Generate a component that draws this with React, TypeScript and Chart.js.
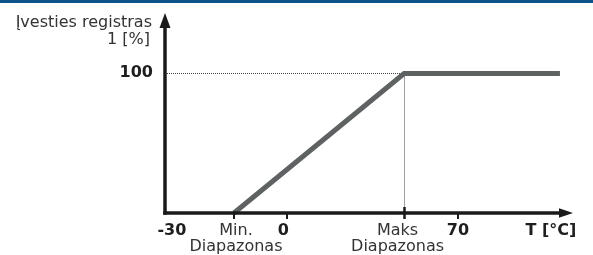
import React, { useEffect, useRef } from "react";
import { Chart, registerables } from "chart.js";

Chart.register(...registerables);

// Schematic x units (0..100 across the axis), y in percent
const curveX = [16.9, 58.6, 96.8];
const curveY = [0, 100, 100];
const guideX = 58.6; // Maks position
const guideY = 100;

const xTickMarks = [16.9, 30.0, 71.8];
const xMaksTick = 58.6;
const xLabels: (string | string[])[] = ["-30", ["Min.", "Diapazonas"], "0", ["Maks", "Diapazonas"], "70", "T [°C]"];
const xLabelPos = [1.7, 17.4, 29.0, 57.0, 71.8, 94.6];
const xLabelBold = [true, false, true, false, true, true];

const yTickValue = 100;
const yTickLabel = "100";
const yTitle = ["Įvesties registras", "1 [%]"];

const FONT = "'DejaVu Sans', Verdana, sans-serif";

const guides = {
  id: "guides",
  beforeDatasetsDraw(chart: any) {
    const ctx = chart.ctx as CanvasRenderingContext2D;
    const xs = chart.scales.x;
    const ys = chart.scales.y;
    const x0 = xs.getPixelForValue(0);
    const y0 = ys.getPixelForValue(0);
    const gx = Math.round(xs.getPixelForValue(guideX)) + 0.5;
    const gy = Math.floor(ys.getPixelForValue(guideY)) + 0.5;
    ctx.save();
    ctx.strokeStyle = "#444444";
    ctx.lineWidth = 1;
    ctx.setLineDash([1, 1]);
    ctx.beginPath();
    ctx.moveTo(x0 + 2, gy);
    ctx.lineTo(gx, gy);
    ctx.stroke();
    ctx.beginPath();
    ctx.moveTo(gx, gy);
    ctx.lineTo(gx, y0);
    ctx.stroke();
    ctx.restore();
  },
};

const overlay = {
  id: "overlay",
  afterDatasetsDraw(chart: any) {
    const ctx = chart.ctx as CanvasRenderingContext2D;
    const xs = chart.scales.x;
    const ys = chart.scales.y;
    const x0 = xs.getPixelForValue(0);
    const xEnd = xs.getPixelForValue(100);
    const y0 = ys.getPixelForValue(0);
    const yTop = ys.getPixelForValue(ys.max);
    ctx.save();
    // top band
    ctx.fillStyle = "#0b5389";
    ctx.fillRect(0, 0, chart.width, 3);

    ctx.strokeStyle = "#1a1a1a";
    ctx.fillStyle = "#1a1a1a";
    ctx.lineWidth = 3.5;
    // y axis
    ctx.beginPath();
    ctx.moveTo(x0, y0 + 1.75);
    ctx.lineTo(x0, yTop + 14);
    ctx.stroke();
    ctx.beginPath();
    ctx.moveTo(x0, yTop);
    ctx.lineTo(x0 - 5.5, yTop + 15);
    ctx.lineTo(x0 + 5.5, yTop + 15);
    ctx.closePath();
    ctx.fill();
    // x axis
    ctx.beginPath();
    ctx.moveTo(x0 - 1.75, y0);
    ctx.lineTo(xEnd - 13, y0);
    ctx.stroke();
    ctx.beginPath();
    ctx.moveTo(xEnd, y0);
    ctx.lineTo(xEnd - 14, y0 - 4.8);
    ctx.lineTo(xEnd - 14, y0 + 4.8);
    ctx.closePath();
    ctx.fill();

    // tick marks
    ctx.lineWidth = 2;
    xTickMarks.forEach((v) => {
      const px = Math.round(xs.getPixelForValue(v));
      ctx.beginPath();
      ctx.moveTo(px, y0);
      ctx.lineTo(px, y0 + 6);
      ctx.stroke();
    });
    const pm = Math.round(xs.getPixelForValue(xMaksTick)) + 0.5;
    ctx.lineWidth = 2.5;
    ctx.beginPath();
    ctx.moveTo(pm, y0 - 6);
    ctx.lineTo(pm, y0 + 6);
    ctx.stroke();

    // x labels
    ctx.textAlign = "center";
    ctx.textBaseline = "alphabetic";
    xLabels.forEach((lab, i) => {
      const px = xs.getPixelForValue(xLabelPos[i]);
      const lines = Array.isArray(lab) ? lab : [lab];
      ctx.font = (xLabelBold[i] ? "bold " : "") + "16px " + FONT;
      ctx.fillStyle = xLabelBold[i] ? "#1e1e1e" : "#333333";
      lines.forEach((t, j) => {
        ctx.fillText(t, px, y0 + 22 + j * 16);
      });
    });

    // y labels
    ctx.textAlign = "right";
    ctx.font = "bold 16px " + FONT;
    ctx.fillStyle = "#1e1e1e";
    ctx.fillText(yTickLabel, x0 - 12, ys.getPixelForValue(yTickValue) + 3);
    ctx.font = "16px " + FONT;
    ctx.fillStyle = "#333333";
    ctx.fillText(yTitle[0], x0 - 13, yTop + 14);
    ctx.fillText(yTitle[1], x0 - 15, yTop + 31);
    ctx.restore();
  },
};

export default function App() {
  const ref = useRef<HTMLCanvasElement | null>(null);
  useEffect(() => {
    document.body.style.margin = "0";
    const canvas = ref.current!;
    const pts = (xa: number[], ya: number[]) => xa.map((x, i) => ({ x, y: ya[i] }));
    const chart = new Chart(canvas, {
      type: "scatter",
      data: {
        datasets: [
          {
            data: pts(curveX, curveY),
            showLine: true,
            borderColor: "#5f6262",
            borderWidth: 5,
            borderJoinStyle: "miter",
            borderCapStyle: "butt",
            pointRadius: 0,
          },
        ],
      },
      options: {
        responsive: false,
        animation: false,
        events: [],
        layout: { padding: { left: 165, right: 20, top: 13, bottom: 42 } },
        plugins: { legend: { display: false }, tooltip: { enabled: false } },
        scales: {
          x: { type: "linear", min: 0, max: 100, display: false },
          y: { type: "linear", min: 0, max: 143.4, display: false },
        },
        clip: false as any,
      } as any,
      plugins: [guides, overlay],
    });
    return () => chart.destroy();
  }, []);
  return (
    <div style={{ width: 593, height: 255, background: "#fff" }}>
      <canvas ref={ref} width={593} height={255} style={{ display: "block" }} />
    </div>
  );
}
